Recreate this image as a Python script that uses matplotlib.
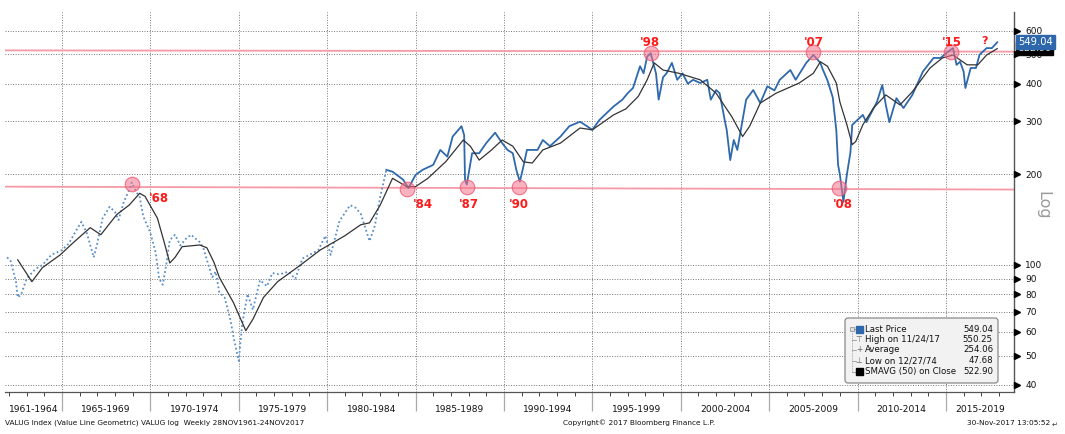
import matplotlib
matplotlib.use('Agg')
import matplotlib.pyplot as plt
import matplotlib.transforms as mtrans
import matplotlib.patches as mpatches
from matplotlib.ticker import FixedLocator, FixedFormatter, NullLocator

# ---------------- data ----------------
price_years = [1961.9, 1962.1, 1962.4, 1962.5, 1962.7, 1963.0, 1963.5, 1963.9, 1964.4, 1965.0,
               1965.4, 1965.8, 1966.1, 1966.4, 1966.8, 1967.0, 1967.3, 1967.7, 1968.0, 1968.2,
               1968.5, 1968.85, 1968.95, 1969.2, 1969.4, 1969.6, 1970.0, 1970.3, 1970.5, 1970.7,
               1970.9, 1971.1, 1971.4, 1971.7, 1972.0, 1972.3, 1972.8, 1973.0, 1973.2, 1973.5,
               1973.7, 1973.9, 1974.2, 1974.5, 1974.7, 1974.9, 1975.0, 1975.2, 1975.5, 1975.8,
               1976.2, 1976.6, 1976.9, 1977.3, 1977.8, 1978.2, 1978.6, 1979.0, 1979.5, 1979.9,
               1980.2, 1980.7, 1981.3, 1981.6, 1981.9, 1982.4, 1982.7, 1983.0, 1983.35,
               1983.7, 1984.3, 1984.6, 1985.0, 1985.4, 1986.0, 1986.4, 1986.8, 1987.1, 1987.6,
               1987.75, 1987.8, 1987.9, 1988.2, 1988.6, 1989.0, 1989.5, 1989.9, 1990.2, 1990.5,
               1990.7, 1990.9, 1991.1, 1991.3, 1991.9, 1992.2, 1992.6, 1993.2, 1993.7, 1994.3,
               1994.7, 1995.0, 1995.4, 1996.2, 1996.7, 1997.0, 1997.3, 1997.7, 1997.9, 1998.1,
               1998.3, 1998.6, 1998.75, 1999.0, 1999.2, 1999.5, 1999.8, 2000.1, 2000.4, 2000.7,
               2001.1, 2001.5, 2001.7, 2002.0, 2002.2, 2002.5, 2002.6, 2002.8, 2003.0, 2003.2,
               2003.4, 2003.7, 2004.1, 2004.5, 2004.9, 2005.3, 2005.6, 2006.2, 2006.5, 2007.1,
               2007.5, 2007.9, 2008.0, 2008.3, 2008.6, 2008.8, 2008.9, 2009.0, 2009.2, 2009.4,
               2009.6, 2009.7, 2010.3, 2010.5, 2011.1, 2011.4, 2011.6, 2011.8, 2012.2, 2012.6,
               2013.1, 2013.7, 2014.3, 2014.7, 2015.1, 2015.4, 2015.6, 2015.8, 2016.0, 2016.1,
               2016.4, 2016.7, 2016.9, 2017.3, 2017.6, 2017.9]
price_vals = [106, 103, 88, 78, 80, 90, 97, 100, 108, 112,
              118, 130, 139, 128, 106, 118, 143, 156, 150, 141,
              162, 180, 188, 175, 168, 145, 128, 110, 90, 86,
              100, 121, 126, 116, 122, 126, 119, 114, 104, 91,
              95, 81, 78, 67, 58, 51, 48, 64, 80, 71,
              89, 85, 94, 93, 95, 90, 105, 108, 112, 125,
              108, 140, 158, 155, 148, 120, 135, 168, 207,
              204, 192, 180, 199, 207, 215, 241, 229, 267, 289,
              270, 192, 185, 235, 235, 254, 275, 254, 241, 235,
              207, 189, 212, 241, 241, 260, 248, 267, 289, 299,
              289, 281, 303, 336, 354, 372, 387, 457, 433, 492,
              505, 433, 354, 420, 433, 469, 412, 433, 400, 412,
              402, 412, 354, 381, 372, 300, 281, 223, 260, 241,
              281, 354, 381, 345, 392, 380, 412, 444, 412, 469,
              498, 469, 451, 410, 360, 280, 215, 200, 162, 200,
              237, 292, 315, 298, 348, 396, 340, 298, 358, 332,
              367, 439, 487, 487, 510, 525, 462, 473, 439, 387,
              451, 451, 499, 525, 525, 549]
solid_from_year = 1983.35   # earlier history is drawn dotted

sma_years = [1962.5, 1963.3, 1963.9, 1964.9, 1965.6, 1966.6, 1967.2, 1968.1, 1968.8, 1969.4,
             1969.7, 1970.4, 1970.75, 1971.1, 1971.4, 1971.8, 1972.8, 1973.2, 1973.6, 1973.9,
             1974.7, 1975.4, 1975.8, 1976.4, 1977.2, 1978.5, 1979.6, 1981.0, 1981.9, 1982.4,
             1983.0, 1983.7, 1984.5, 1985.0, 1985.7, 1986.7, 1987.7, 1988.1, 1988.6, 1989.3,
             1989.9, 1990.5, 1991.1, 1991.6, 1992.2, 1993.2, 1994.3, 1995.0, 1996.2, 1996.9,
             1997.6, 1998.1, 1998.5, 1999.0, 1999.9, 2001.1, 2002.0, 2002.9, 2003.5, 2003.9,
             2004.5, 2005.4, 2006.7, 2007.5, 2007.9, 2008.3, 2008.8, 2009.0, 2009.4, 2009.7,
             2009.9, 2010.3, 2010.9, 2011.6, 2012.4, 2013.1, 2014.1, 2014.8, 2015.4, 2016.2,
             2016.8, 2017.3, 2017.9]
sma_vals = [104, 88, 98, 108, 118, 133, 126, 147, 158, 173,
            169, 143, 121, 101.5, 106, 115, 116.5, 114, 102, 91,
            75, 60.5, 66, 78, 88, 100, 112, 125, 136, 138,
            158, 194, 182, 182, 194, 220, 260, 248, 223, 241,
            260, 248, 220, 218, 241, 254, 285, 281, 315, 330,
            363, 412, 469, 444, 433, 412, 372, 310, 267, 289,
            345, 372, 402, 433, 473, 457, 402, 348, 292, 251,
            257, 292, 332, 367, 340, 376, 451, 487, 498, 462,
            462, 498, 523]

support_years = [1961.78, 2018.85]
support_vals = [182, 178]
resist_vals = [516, 511]

event_labels = ["'68", "'84", "'87", "'90", "'98", "'07", "'08", "'15"]
event_years = [1968.97, 1984.5, 1987.93, 1990.85, 1998.3, 2007.48, 2008.95, 2015.3]
event_vals = [186, 178.5, 181, 181, 507, 510, 180, 510]

y_ticks = [40, 50, 60, 70, 80, 90, 100, 200, 300, 400, 500, 600]
period_starts = [1961, 1965, 1970, 1975, 1980, 1985, 1990, 1995, 2000, 2005, 2010, 2015]
period_labels = ["1961-1964", "1965-1969", "1970-1974", "1975-1979", "1980-1984", "1985-1989",
                 "1990-1994", "1995-1999", "2000-2004", "2005-2009", "2010-2014", "2015-2019"]

legend_names = ["Last Price", "High on 11/24/17", "Average", "Low on 12/27/74", "SMAVG (50) on Close"]
legend_values = ["549.04", "550.25", "254.06", "47.68", "522.90"]
last_price = 549.04
last_sma = 522.90

# ---------------- figure ----------------
W, H = 1065, 434
fig = plt.figure(figsize=(W / 100, H / 100), dpi=100)
fig.patch.set_facecolor('white')
pix = mtrans.Affine2D().scale(0.01, -0.01).translate(0, H / 100) + fig.dpi_scale_trans

ax = fig.add_axes([5 / W, (H - 392) / H, (1014 - 5) / W, (392 - 12) / H])
ax.set_yscale('log')
x0, x1 = 1961.78, 2018.85
ax.set_xlim(x0, x1)
ax.set_ylim(37.85, 692)

for s in ['left', 'top']:
    ax.spines[s].set_visible(False)
ax.spines['right'].set_color('#555555')
ax.spines['bottom'].set_color('#555555')
ax.spines['right'].set_linewidth(1.0)
ax.spines['bottom'].set_linewidth(0.9)

grid_kw = dict(color='#777777', lw=0.7, ls=(0, (1, 1.6)), zorder=0.5)
for v in y_ticks:
    ax.axhline(v, **grid_kw)
for yr in period_starts[1:]:
    ax.axvline(yr, **grid_kw)

# y axis on the right
ax.yaxis.tick_right()
ax.yaxis.set_major_locator(FixedLocator(y_ticks))
ax.yaxis.set_major_formatter(FixedFormatter([str(v) for v in y_ticks]))
ax.yaxis.set_minor_locator(NullLocator())
ax.tick_params(axis='y', which='both', length=0, pad=8, labelsize=6.5, labelcolor='#111111')
tri_tr = mtrans.offset_copy(mtrans.blended_transform_factory(ax.transAxes, ax.transData),
                            fig=fig, x=3, y=0, units='dots')
ax.plot([1.0] * len(y_ticks), y_ticks, ls='none', marker='>', ms=4, color='black',
        transform=tri_tr, clip_on=False, zorder=6)

# x axis: yearly minor ticks, 5-year separators
ax.xaxis.set_major_locator(FixedLocator(period_starts[1:]))
ax.xaxis.set_major_formatter(FixedFormatter([''] * len(period_starts[1:])))
ax.xaxis.set_minor_locator(FixedLocator(list(range(1962, 2019))))
ax.tick_params(axis='x', which='major', length=14, width=0.9, color='#aaaaaa')
ax.tick_params(axis='x', which='minor', length=3, width=0.7, color='#444444')
xlab_tr = mtrans.blended_transform_factory(ax.transData, pix)
for i, lab in enumerate(period_labels):
    a = max(period_starts[i], x0)
    b = min(period_starts[i + 1] if i + 1 < len(period_starts) else x1, x1)
    ax.text((a + b) / 2, 410, lab, transform=xlab_tr, ha='center', va='center',
            fontsize=6.6, color='#111111', clip_on=False)

# horizontal support / resistance lines
ax.plot(support_years, support_vals, color='#f59aa6', lw=1.3, zorder=2)
ax.plot(support_years, resist_vals, color='#f59aa6', lw=1.3, zorder=2)

# price
split = next(i for i, y in enumerate(price_years) if y >= solid_from_year)
ax.plot(price_years[:split + 1], price_vals[:split + 1], color='#5b8fc9', lw=1.3,
        ls=(0, (1, 1.4)), zorder=3)
ax.plot(price_years[split:], price_vals[split:], color='#2f69ad', lw=1.3, zorder=3)

# moving average
ax.plot(sma_years, sma_vals, color='#333333', lw=0.9, zorder=4)

# event circles
ax.plot(event_years, event_vals, ls='none', marker='o', ms=10.5,
        mfc=(0.96, 0.45, 0.55, 0.55), mec=(0.93, 0.35, 0.45, 0.8), mew=0.8, zorder=5)

label_px = [(159, 199), (423, 205), (469, 205), (519, 204), (650, 43), (814, 42), (843, 205), (952, 42)]
for lab, (px, py) in zip(event_labels, label_px):
    ax.text(px, py, lab, transform=pix, ha='center', va='center', color='#ff1a1a',
            fontsize=8.5, fontweight='bold', clip_on=False, zorder=7)
ax.text(985, 41, '?', transform=pix, ha='center', va='center', color='#ff1a1a',
        fontsize=8, fontweight='bold', clip_on=False, zorder=7)

# "Log" axis title
fig.text(1043, 205, 'Log', transform=pix, rotation=-90, ha='center', va='center',
         color='#9a9a9a', fontsize=11.5)

# last value boxes
val_tr = mtrans.offset_copy(mtrans.blended_transform_factory(ax.transAxes, ax.transData),
                            fig=fig, x=4, y=0, units='dots')
ax.text(1.0, last_sma, f'{last_sma:.2f}', transform=val_tr, ha='left', va='center',
        fontsize=6.8, color='white', clip_on=False, zorder=8,
        bbox=dict(boxstyle='square,pad=0.18', fc='black', ec='black'))
ax.text(1.0, last_price, f'{last_price:.2f}', transform=val_tr, ha='left', va='center',
        fontsize=7.2, color='white', clip_on=False, zorder=9,
        bbox=dict(boxstyle='square,pad=0.22', fc='#2e67ab', ec='#2e67ab'))

# legend box
box = mpatches.FancyBboxPatch((845, 318), 153, 65, boxstyle='round,pad=0,rounding_size=3',
                              transform=pix, fc='#f2f2f2', ec='#8a8a8a', lw=0.9, zorder=10)
fig.patches.append(box)
rows = [329, 339.5, 350, 360.5, 371.5]
fig.add_artist(plt.Line2D([851.5, 851.5], [rows[0], rows[-1]], transform=pix, color='#999999',
                          lw=0.6, ls=(0, (1, 1)), zorder=11))
for r in rows:
    fig.add_artist(plt.Line2D([851.5, 855.5], [r, r], transform=pix, color='#999999', lw=0.6,
                              zorder=11))
fig.add_artist(mpatches.Rectangle((849.5, 327), 4, 4, transform=pix, fc='#dddddd', ec='#888888',
                                  lw=0.5, zorder=12))
fig.add_artist(mpatches.Rectangle((856, 326), 6.5, 6.5, transform=pix, fc='#2e67ab', ec='#2e67ab',
                                  zorder=12))
fig.add_artist(mpatches.Rectangle((856, 368), 6.5, 6.5, transform=pix, fc='black', ec='black',
                                  zorder=12))
for g, r in zip(['\u22a4', '+', '\u22a5'], rows[1:4]):
    fig.text(859, r, g, transform=pix, ha='center', va='center', fontsize=5.5, color='#666666',
             zorder=12)
for name, val, r in zip(legend_names, legend_values, rows):
    fig.text(865, r, name, transform=pix, ha='left', va='center', fontsize=6.2, color='#111111',
             zorder=12)
    fig.text(993, r, val, transform=pix, ha='right', va='center', fontsize=6.2, color='#111111',
             zorder=12)

# footer
fig.text(5, 423, 'VALUG Index (Value Line Geometric) VALUG log  Weekly 28NOV1961-24NOV2017',
         transform=pix, ha='left', va='center', fontsize=5.3, color='#111111')
fig.text(563, 423, 'Copyright\u00a9 2017 Bloomberg Finance L.P.', transform=pix, ha='left',
         va='center', fontsize=5.3, color='#111111')
fig.text(1050, 423, '30-Nov-2017 13:05:52', transform=pix, ha='right', va='center',
         fontsize=5.3, color='#111111')
fig.text(1052, 425, '\u21b5', transform=pix, ha='left', va='center', fontsize=5, color='#333333')

fig.savefig('out.png', dpi=100)
